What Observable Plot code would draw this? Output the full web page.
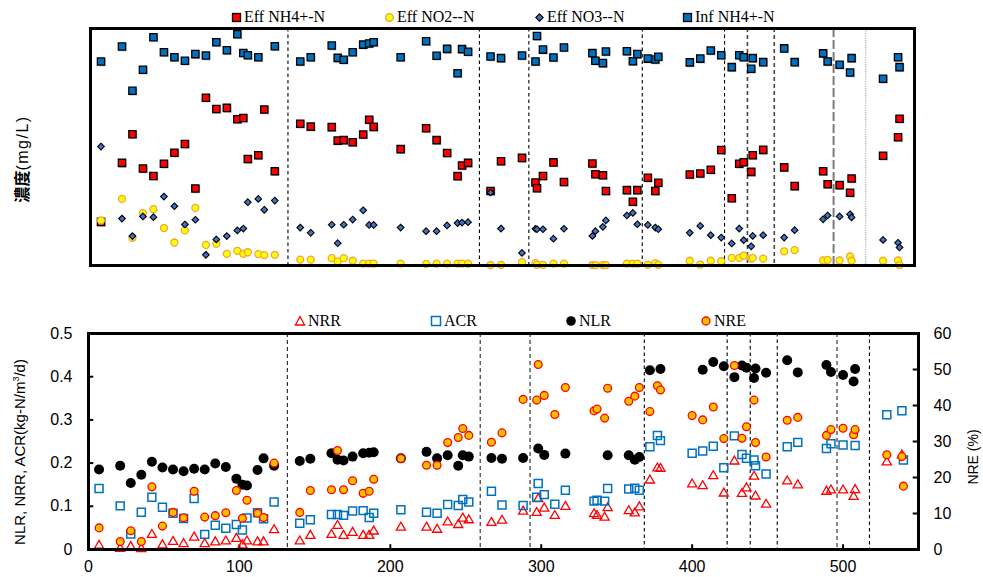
<!DOCTYPE html>
<html><head><meta charset="utf-8">
<script src="https://cdn.jsdelivr.net/npm/d3@7"></script>
<script src="https://cdn.jsdelivr.net/npm/@observablehq/plot@0.6"></script>
<style>
body{margin:0;background:#fff;}
#wrap{position:relative;width:983px;height:577px;overflow:hidden;background:#fff;font-family:"Liberation Sans",Arial,sans-serif;color:#000;}
#top,#bot{position:absolute;left:0;}
#top{top:0;}
#bot{top:290px;}
.leg{position:absolute;height:18px;font-family:"Liberation Serif","Times New Roman",serif;font-size:16px;line-height:18px;white-space:nowrap;display:flex;align-items:center;}
.leg svg{margin-right:2px;}
.ylab{position:absolute;white-space:nowrap;transform:translate(-50%,-50%) rotate(-90deg);}
</style></head><body>
<div id="wrap">
  <div id="top"></div>
  <div id="bot"></div>
</div>
<script>
// ---------------- DATA ----------------
const days = [7,21,28,35,42,49,56,63,70,77,84,91,98,102,105,112,116,123,
  140,147,161,165,169,175,182,186,189,207,224,231,238,245,248,252,267,
  274,288,297,298,302,309,316,335,337,342,344,358,362,365,372,377,379,400,
  407,414,421,428,433,436,441,442,449,463,470,489,492,500,507,508,529,539,540];

// top panel (relative concentration, no tick labels in the original)
const effNH4 = [18.4,43.3,55.4,40.9,37.8,42.9,47.6,51.3,32.5,70.8,66.0,66.5,61.7,62.2,44.9,46.5,65.8,39.8,
  59.8,58.6,58.4,52.7,52.9,52.0,55.3,61.5,58.5,49.1,57.9,52.9,47.5,37.7,42.2,43.3,31.4,
  44.0,45.4,35.0,32.6,37.8,43.5,35.2,43.0,38.5,38.1,31.4,31.8,26.9,31.8,37.0,31.4,34.9,38.4,
  38.8,40.4,48.7,28.4,42.9,43.6,39.5,46.5,48.8,41.4,33.5,39.8,34.3,33.9,30.7,36.7,46.3,54.1,61.9];
const effNO2 = [19.0,28.1,11.7,22.1,23.8,15.8,9.7,14.8,24.3,8.7,9.2,4.9,6.2,4.9,5.6,4.8,4.4,4.5,
  2.5,2.5,3.1,1.7,3.1,2.0,0.8,0.8,0.8,0.8,0.7,0.8,0.8,0.8,0.8,0.8,0.2,
  0.3,1.4,1.0,0.3,0.3,0.8,0.8,0.2,0.2,0.2,0.2,0.8,0.8,0.8,0.3,1.0,0.3,2.0,
  0.4,2.0,1.8,3.2,3.2,4.2,2.9,3.2,2.9,6.0,6.5,2.1,2.4,2.1,3.8,2.0,2.0,2.1,0.2];
const effNO3 = [50.2,19.8,12.4,20.7,20.4,29.1,25.0,17.3,19.3,4.5,11.0,12.4,14.8,15.6,26.7,28.1,23.5,27.4,
  16.0,13.8,17.2,9.4,17.2,19.4,23.3,17.1,17.1,16.0,14.5,14.5,16.9,17.9,18.1,18.3,30.8,
  15.6,5.3,15.5,15.3,15.3,11.3,15.5,12.5,14.5,16.3,19.0,21.1,22.2,17.4,17.1,16.0,15.3,13.8,
  16.7,12.8,11.8,9.3,15.6,10.7,8.1,12.5,12.8,11.8,14.9,19.5,21.1,20.7,21.6,20.3,10.8,9.6,7.6];
const infNH4 = [86.1,92.4,73.7,82.6,96.3,90.0,87.9,86.4,89.2,88.6,94.2,90.8,97.6,89.7,88.7,87.9,null,92.5,
  86.1,87.9,92.8,87.6,86.8,90.0,93.2,93.7,94.2,87.9,94.6,88.5,91.4,81.1,91.3,90.2,88.2,
  87.5,88.6,86.1,96.8,91.1,87.8,92.0,89.6,86.4,85.4,90.3,90.4,86.2,89.2,87.3,86.9,88.1,85.7,
  87.3,90.7,88.7,83.7,88.7,87.9,83.0,87.5,85.8,91.6,85.8,89.5,86.1,84.7,81.4,87.5,78.8,87.9,83.7];

// bottom panel
const NLR = [0.185,0.194,0.154,0.173,0.203,0.190,0.185,0.181,0.187,0.185,0.199,0.191,0.164,0.150,0.148,0.184,0.211,0.194,
  0.205,0.210,0.223,0.208,0.206,0.215,0.223,0.224,0.225,0.211,0.226,0.211,0.218,0.194,0.218,0.215,0.212,
  0.210,0.212,null,0.234,0.219,null,0.222,null,null,null,0.218,0.218,0.208,0.214,0.415,null,0.418,null,
  0.416,0.434,0.424,0.399,0.426,0.421,0.397,0.419,0.409,0.438,0.410,0.427,0.411,0.404,0.389,0.418,null,null,null];
const NRR = [0.009,0.002,0.006,0.001,0.034,0.010,0.018,0.013,0.028,0.013,0.017,0.019,0.025,0.010,0.019,0.017,0.017,0.045,
  0.019,0.032,0.034,0.055,0.032,0.039,0.032,0.032,0.042,0.051,0.051,0.046,0.063,0.057,0.072,0.068,0.062,
  0.067,0.088,0.085,0.117,0.095,0.078,0.099,0.082,0.078,0.074,0.096,0.089,0.084,0.098,0.160,0.188,0.187,0.151,
  0.147,0.170,0.130,0.204,0.129,0.142,0.169,0.123,0.104,0.158,0.149,0.134,0.137,0.137,0.122,0.138,0.202,0.218,null];
const ACR = [0.141,0.101,0.036,0.086,0.121,0.098,0.084,0.072,0.118,0.035,0.056,0.049,0.058,0.045,0.073,0.085,0.071,0.110,
  0.061,0.069,0.081,0.081,0.079,0.089,0.090,0.074,0.084,0.092,0.086,0.084,0.104,0.102,0.116,0.110,0.135,
  0.103,0.102,0.121,0.153,0.127,0.105,0.137,0.112,0.114,0.112,0.141,0.140,0.142,0.137,0.238,0.264,0.252,0.223,
  0.228,0.239,0.189,0.263,0.220,0.211,0.207,0.194,0.175,0.238,0.248,0.234,0.245,0.242,null,0.241,0.312,0.321,0.207];
const NRE = [6.0,2.2,5.2,2.2,17.4,6.5,10.3,8.8,16.2,9.0,9.4,10.2,16.4,8.7,13.7,10.1,8.9,24.0,
  10.3,16.4,16.6,27.5,16.6,19.1,15.6,16.2,19.5,25.3,23.4,23.4,29.7,31.1,33.6,31.7,29.8,
  32.4,41.7,41.5,51.4,42.8,37.5,45.0,38.5,39.0,36.5,44.8,41.2,42.6,45.0,38.3,45.5,44.3,37.2,
  36.0,39.6,30.8,51.1,30.9,34.1,41.5,29.7,25.7,35.9,36.7,31.7,33.3,33.7,31.9,33.3,26.3,25.8,17.6];

const phaseLines = [131.8,259.6,292.6,368.3,423.2,438.5,456.4,496,517.5];
const xTicks = [0,100,200,300,400,500];
const leftTicks = [0,0.1,0.2,0.3,0.4,0.5];
const nreTicks = [0,10,20,30,40,50,60];

const topLegend = ["Eff NH4+-N","Eff NO2--N","Eff NO3--N","Inf NH4+-N"];
const botLegend = ["NRR","ACR","NLR","NRE"];

// ---------------- BUILD ----------------
const rows = (arr) => days.map((d,i)=>({day:d, v:arr[i]})).filter(r=>r.v!=null);
const XD = [0,550];
const NRE_MAX = 60, LEFT_MAX = 0.5, k = NRE_MAX/LEFT_MAX;

function lineGroup(idx, opts){ return Plot.ruleX(idx.map(i=>phaseLines[i]), {x:d=>d, ...opts}); }

const topPlot = Plot.plot({
  width:983, height:280, marginLeft:90, marginRight:69, marginTop:28, marginBottom:15,
  x:{domain:XD, axis:null}, y:{domain:[0,100], axis:null},
  marks:[
    lineGroup([0,1,2,3,4], {stroke:"#000", strokeWidth:1.1, strokeDasharray:"3.5,3"}),
    lineGroup([5,6], {stroke:"#444", strokeWidth:1.6, strokeDasharray:"4,3"}),
    lineGroup([7], {stroke:"#7a7a7a", strokeWidth:2, strokeDasharray:"9,3"}),
    lineGroup([8], {stroke:"#999", strokeWidth:1, strokeDasharray:"1.2,1.2"}),
    Plot.dot(rows(effNH4), {x:"day", y:"v", symbol:"square", r:4.3, fill:"#999", dx:1, dy:1, fillOpacity:0.6}),
    Plot.dot(rows(effNH4), {x:"day", y:"v", symbol:"square", r:4.1, fill:"#FF0000", stroke:"#000", strokeWidth:1.3}),
    Plot.dot(rows(effNO2), {x:"day", y:"v", r:3.5, fill:"#FFFF00", stroke:"#F2A33A", strokeWidth:1.3}),
    Plot.dot(rows(effNO3), {x:"day", y:"v", symbol:"diamond2", r:3.0, fill:"#4472C4", stroke:"#000", strokeWidth:1.1}),
    Plot.dot(rows(infNH4), {x:"day", y:"v", symbol:"square", r:4.3, fill:"#999", dx:1, dy:1, fillOpacity:0.6}),
    Plot.dot(rows(infNH4), {x:"day", y:"v", symbol:"square", r:4.1, fill:"#0070C0", stroke:"#000", strokeWidth:1.3}),
    Plot.frame({stroke:"#000", strokeWidth:3})
  ]
});
document.getElementById("top").appendChild(topPlot);

const botPlot = Plot.plot({
  width:983, height:287, marginLeft:88, marginRight:65, marginTop:43, marginBottom:28,
  style:{fontFamily:"'Liberation Sans', Arial, sans-serif", fontSize:"16px", color:"#000", background:"transparent"},
  x:{domain:XD, axis:null}, y:{domain:[0,LEFT_MAX], axis:null},
  marks:[
    Plot.axisX({ticks:xTicks, tickSize:0, tickPadding:11, fontSize:16, label:null, tickFormat:d=>String(d)}),
    Plot.axisY({ticks:leftTicks, tickSize:0, tickPadding:16, fontSize:16, label:null, tickFormat:d=>String(+d.toFixed(1))}),
    Plot.axisY({anchor:"right", ticks:nreTicks.map(v=>v/k), tickSize:0, tickPadding:15, fontSize:16, label:null, tickFormat:d=>String(Math.round(d*k))}),
    Plot.ruleX(xTicks, {x:d=>d, y1:0, y2:0.011, stroke:"#000", strokeWidth:2}),
    Plot.ruleY(leftTicks, {y:d=>d, x1:0, x2:3.5, stroke:"#000", strokeWidth:2}),
    Plot.ruleY(nreTicks.map(v=>v/k), {y:d=>d, x1:XD[1]-3.5, x2:XD[1], stroke:"#000", strokeWidth:2}),
    lineGroup([0,2], {stroke:"#333", strokeWidth:1.2, strokeDasharray:"4,3"}),
    lineGroup([1,7], {stroke:"#555", strokeWidth:1.4, strokeDasharray:"4,3"}),
    lineGroup([3,4,5,6,8], {stroke:"#000", strokeWidth:1.1, strokeDasharray:"3.5,3"}),
    Plot.dot(rows(NRR), {x:"day", y:"v", symbol:"triangle", r:3.4, fill:"none", stroke:"#FF0000", strokeWidth:1.3}),
    Plot.dot(rows(ACR), {x:"day", y:"v", symbol:"square", r:4.5, fill:"none", stroke:"#0070C0", strokeWidth:1.5}),
    Plot.dot(rows(NLR), {x:"day", y:"v", r:5, fill:"#000"}),
    Plot.dot(rows(NRE), {x:"day", y:d=>d.v/k, r:3.9, fill:"#FFC000", stroke:"#FF0000", strokeWidth:1.3}),
    Plot.frame({stroke:"#000", strokeWidth:3})
  ]
});
document.getElementById("bot").appendChild(botPlot);

// ---------------- LEGENDS & LABELS ----------------
const wrap = document.getElementById("wrap");
function add(html){ wrap.insertAdjacentHTML("beforeend", html); }
const icons = {
  sqRed:'<svg width="11" height="11"><rect x="1.5" y="1.5" width="8" height="8" fill="#FF0000" stroke="#000" stroke-width="1.3"/></svg>',
  cirY:'<svg width="11" height="11"><circle cx="5.5" cy="5.5" r="3.8" fill="#FFFF00" stroke="#F2A33A" stroke-width="1.3"/></svg>',
  dia:'<svg width="11" height="11"><path d="M5.5 1.8 L9.2 5.5 L5.5 9.2 L1.8 5.5Z" fill="#4472C4" stroke="#000" stroke-width="1.1"/></svg>',
  sqBlue:'<svg width="11" height="11"><rect x="1.5" y="1.5" width="8" height="8" fill="#0070C0" stroke="#000" stroke-width="1.3"/></svg>',
  tri:'<svg width="12" height="12"><path d="M6 1.5 L10.6 10 L1.4 10Z" fill="none" stroke="#FF0000" stroke-width="1.3"/></svg>',
  sqOpen:'<svg width="12" height="12"><rect x="1.5" y="1.5" width="9" height="9" fill="none" stroke="#0070C0" stroke-width="1.5"/></svg>',
  blk:'<svg width="12" height="12"><circle cx="6" cy="6" r="4.8" fill="#000"/></svg>',
  nre:'<svg width="12" height="12"><circle cx="6" cy="6" r="4" fill="#FFC000" stroke="#FF0000" stroke-width="1.3"/></svg>'
};
const topIcons = [icons.sqRed, icons.cirY, icons.dia, icons.sqBlue];
const topLeft = [231, 384, 534, 682];
topLegend.forEach((t,i)=>add(`<div class="leg" style="left:${topLeft[i]}px;top:8px">${topIcons[i]}<span>${t}</span></div>`));
const botIcons = [icons.tri, icons.sqOpen, icons.blk, icons.nre];
const botLeft = [294, 430, 565, 700];
botLegend.forEach((t,i)=>add(`<div class="leg" style="left:${botLeft[i]}px;top:312px">${botIcons[i]}<span>${t}</span></div>`));

add(`<div class="ylab" style="left:21px;top:159px;font-size:16px;"><span style="font-family:'Noto Sans CJK TC','Noto Sans CJK SC',sans-serif;font-weight:bold;">濃度</span><span style="font-family:'Liberation Sans',Arial,sans-serif;letter-spacing:1.5px;">(mg/L)</span></div>`);
add(`<div class="ylab" style="left:19px;top:452px;font-size:15px;">NLR, NRR, ACR(kg-N/m<sup style="font-size:9px;vertical-align:6px;line-height:0">3</sup>/d)</div>`);
add(`<div class="ylab" style="left:973px;top:457px;font-size:14px;">NRE (%)</div>`);
</script>
</body></html>
